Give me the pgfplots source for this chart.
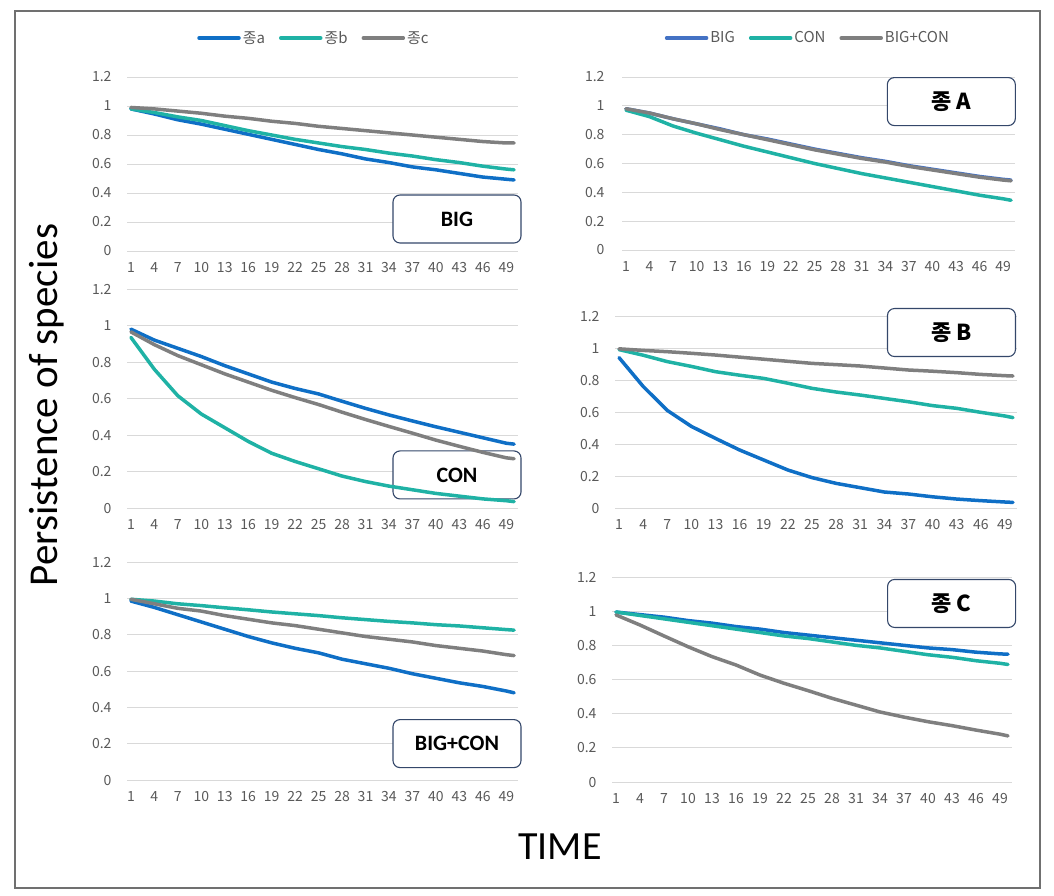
\documentclass[border=0pt]{standalone}
\usepackage{fontspec}
\setmainfont{Carlito}
\newfontfamily\cjk{Noto Sans CJK KR}
\usepackage{pgfplots}
\usepackage{pgfplotstable}
\pgfplotsset{compat=1.18}

\definecolor{cblue}{HTML}{0F6FC6}
\definecolor{lblue}{HTML}{4472C4}
\definecolor{cteal}{HTML}{1FB2A5}
\definecolor{cgray}{HTML}{7F7F7F}
\definecolor{gridgray}{HTML}{D9D9D9}
\definecolor{tickgray}{HTML}{595959}
\definecolor{boxblue}{HTML}{34476A}
\definecolor{framegray}{HTML}{707070}

% Left column: species a, b, c under each treatment
\pgfplotstableread{
x a b c
1 0.98 0.98 0.99
4 0.945 0.955 0.98
7 0.905 0.925 0.965
10 0.875 0.90 0.95
13 0.84 0.865 0.93
16 0.805 0.83 0.915
19 0.77 0.80 0.895
22 0.735 0.77 0.88
25 0.70 0.745 0.86
28 0.67 0.72 0.845
31 0.635 0.70 0.83
34 0.61 0.675 0.815
37 0.58 0.655 0.80
40 0.56 0.63 0.785
43 0.535 0.61 0.77
46 0.51 0.585 0.755
49 0.495 0.565 0.745
50 0.49 0.56 0.745
}\tblBIG

\pgfplotstableread{
x a b c
1 0.98 0.935 0.965
4 0.92 0.76 0.895
7 0.875 0.615 0.835
10 0.83 0.515 0.785
13 0.78 0.44 0.735
16 0.735 0.365 0.69
19 0.69 0.30 0.645
22 0.655 0.255 0.605
25 0.625 0.215 0.567
28 0.585 0.175 0.525
31 0.546 0.145 0.485
34 0.51 0.12 0.447
37 0.477 0.10 0.41
40 0.445 0.08 0.372
43 0.415 0.065 0.338
46 0.385 0.05 0.305
49 0.355 0.04 0.275
50 0.35 0.035 0.27
}\tblCON

\pgfplotstableread{
x a b c
1 0.985 0.995 0.995
4 0.95 0.985 0.97
7 0.91 0.97 0.945
10 0.87 0.96 0.93
13 0.83 0.948 0.905
16 0.79 0.937 0.885
19 0.755 0.925 0.865
22 0.725 0.915 0.85
25 0.70 0.905 0.83
28 0.665 0.893 0.81
31 0.64 0.883 0.79
34 0.615 0.873 0.775
37 0.585 0.865 0.76
40 0.56 0.855 0.74
43 0.535 0.848 0.725
46 0.515 0.838 0.71
49 0.49 0.828 0.69
50 0.48 0.825 0.685
}\tblBOTH

% Right column: blue / teal / gray series per species
\pgfplotstableread{
x blue teal gray
1 0.98 0.97 0.98
4 0.95 0.925 0.95
7 0.91 0.86 0.91
10 0.875 0.81 0.875
13 0.84 0.765 0.835
16 0.80 0.72 0.80
19 0.77 0.68 0.765
22 0.735 0.64 0.73
25 0.70 0.60 0.695
28 0.67 0.565 0.665
31 0.64 0.53 0.635
34 0.615 0.50 0.61
37 0.585 0.47 0.58
40 0.56 0.44 0.555
43 0.535 0.41 0.53
46 0.51 0.38 0.505
49 0.49 0.355 0.485
50 0.485 0.345 0.48
}\tblA

\pgfplotstableread{
x blue teal gray
1 0.94 0.99 0.995
4 0.76 0.955 0.985
7 0.61 0.915 0.977
10 0.51 0.885 0.967
13 0.435 0.852 0.956
16 0.3625 0.83 0.943
19 0.30 0.81 0.93
22 0.2375 0.78 0.917
25 0.19 0.748 0.904
28 0.154 0.725 0.896
31 0.127 0.706 0.8875
34 0.10 0.685 0.875
37 0.0875 0.664 0.8625
40 0.07 0.64 0.855
43 0.056 0.623 0.846
46 0.046 0.598 0.835
49 0.0375 0.575 0.827
50 0.035 0.565 0.825
}\tblB

\pgfplotstableread{
x blue teal gray
1 0.995 0.995 0.978
4 0.98 0.975 0.919
7 0.965 0.955 0.855
10 0.945 0.935 0.792
13 0.93 0.915 0.734
16 0.91 0.895 0.685
19 0.895 0.875 0.626
22 0.875 0.855 0.578
25 0.86 0.84 0.535
28 0.845 0.82 0.49
31 0.83 0.80 0.45
34 0.815 0.785 0.41
37 0.80 0.765 0.38
40 0.785 0.745 0.353
43 0.775 0.73 0.33
46 0.76 0.71 0.304
49 0.75 0.695 0.28
50 0.748 0.688 0.27
}\tblC

\pgfplotsset{
  panel/.style={
    scale only axis,
    xmin=0.5, xmax=50.5, ymin=0, ymax=1.2,
    xtick={1,4,7,10,13,16,19,22,25,28,31,34,37,40,43,46,49},
    xticklabels={1,4,7,10,13,16,19,22,25,28,31,34,37,40,43,46,49},
    ytick={0,0.2,0.4,0.6,0.8,1,1.2},
    yticklabels={0,0.2,0.4,0.6,0.8,1,1.2},
    major tick length=0pt,
    ymajorgrids,
    grid style={draw=gridgray, line width=1pt},
    axis lines*=left,
    axis line style={draw=none},
    tick label style={font=\cjk\fontsize{14}{17}\selectfont, text=tickgray},
    xticklabel style={yshift=-8pt},
    yticklabel style={xshift=-12pt},
    clip=false,
    every axis plot/.append style={line width=3.5pt, line join=round, line cap=round},
    legend image code/.code={\draw[##1] (0pt,0pt) -- (40pt,0pt);},
  },
  lgd/.style={
    legend columns=3,
    legend style={draw=none, fill=none, font=\cjk\fontsize{15}{18}\selectfont,
      text=tickgray, anchor=center,
      /tikz/every even column/.append style={column sep=12pt}},
  },
}
\tikzset{
  tbox/.style={draw=boxblue, line width=1.1pt, rounded corners=7pt, fill=white,
    minimum width=128pt, minimum height=48pt, text=black,
    font=\fontsize{22}{26}\selectfont\bfseries},
}

\begin{document}
\begin{tikzpicture}
\useasboundingbox (0pt,0pt) rectangle (1054pt,-895pt);
\draw[framegray, line width=1.2pt] (15pt,-11pt) rectangle (1040pt,-888pt);

% ---------- Left column ----------
\begin{axis}[panel, lgd, width=391pt, height=174pt, at={(127pt,-251pt)}, anchor=south west,
  legend style={at={(0.478,1.224)}}]
  \node[tbox] at (rel axis cs:0.844,0.184) {BIG};
  \addplot[cblue] table[x=x,y=a] {\tblBIG};
  \addplot[cteal] table[x=x,y=b] {\tblBIG};
  \addplot[cgray] table[x=x,y=c] {\tblBIG};
  \addlegendentry{종a}
  \addlegendentry{종b}
  \addlegendentry{종c}
\end{axis}

\begin{axis}[panel, width=391pt, height=219pt, at={(127pt,-508pt)}, anchor=south west]
  \node[tbox] at (rel axis cs:0.844,0.151) {CON};
  \addplot[cblue] table[x=x,y=a] {\tblCON};
  \addplot[cteal] table[x=x,y=b] {\tblCON};
  \addplot[cgray] table[x=x,y=c] {\tblCON};
\end{axis}

\begin{axis}[panel, width=391pt, height=218pt, at={(127pt,-780pt)}, anchor=south west]
  \node[tbox] at (rel axis cs:0.844,0.167) {BIG+CON};
  \addplot[cblue] table[x=x,y=a] {\tblBOTH};
  \addplot[cteal] table[x=x,y=b] {\tblBOTH};
  \addplot[cgray] table[x=x,y=c] {\tblBOTH};
\end{axis}

% ---------- Right column ----------
\begin{axis}[panel, lgd, width=393pt, height=173pt, at={(622pt,-250pt)}, anchor=south west,
  yticklabel style={xshift=-2pt},
  legend style={at={(0.473,1.225)}}]
  \node[tbox] at (rel axis cs:0.838,0.858) {\cjk\bfseries 종 A};
  \addplot[lblue] table[x=x,y=blue] {\tblA};
  \addplot[cteal] table[x=x,y=teal] {\tblA};
  \addplot[cgray] table[x=x,y=gray] {\tblA};
  \addlegendentry{BIG}
  \addlegendentry{CON}
  \addlegendentry{BIG+CON}
\end{axis}

\begin{axis}[panel, width=402pt, height=192pt, at={(615pt,-508pt)}, anchor=south west]
  \node[tbox] at (rel axis cs:0.837,0.914) {\cjk\bfseries 종 B};
  \addplot[cblue] table[x=x,y=blue] {\tblB};
  \addplot[cteal] table[x=x,y=teal] {\tblB};
  \addplot[cgray] table[x=x,y=gray] {\tblB};
\end{axis}

\begin{axis}[panel, width=400pt, height=205pt, at={(612pt,-782pt)}, anchor=south west]
  \node[tbox] at (rel axis cs:0.849,0.871) {\cjk\bfseries 종 C};
  \addplot[cblue] table[x=x,y=blue] {\tblC};
  \addplot[cteal] table[x=x,y=teal] {\tblC};
  \addplot[cgray] table[x=x,y=gray] {\tblC};
\end{axis}

% ---------- Shared axis titles ----------
\node[rotate=90, font=\fontsize{41}{48}\selectfont] at (47pt,-405pt) {Persistence of species};
\node[font=\fontsize{40}{48}\selectfont] at (560pt,-847pt) {TIME};
\end{tikzpicture}
\end{document}
